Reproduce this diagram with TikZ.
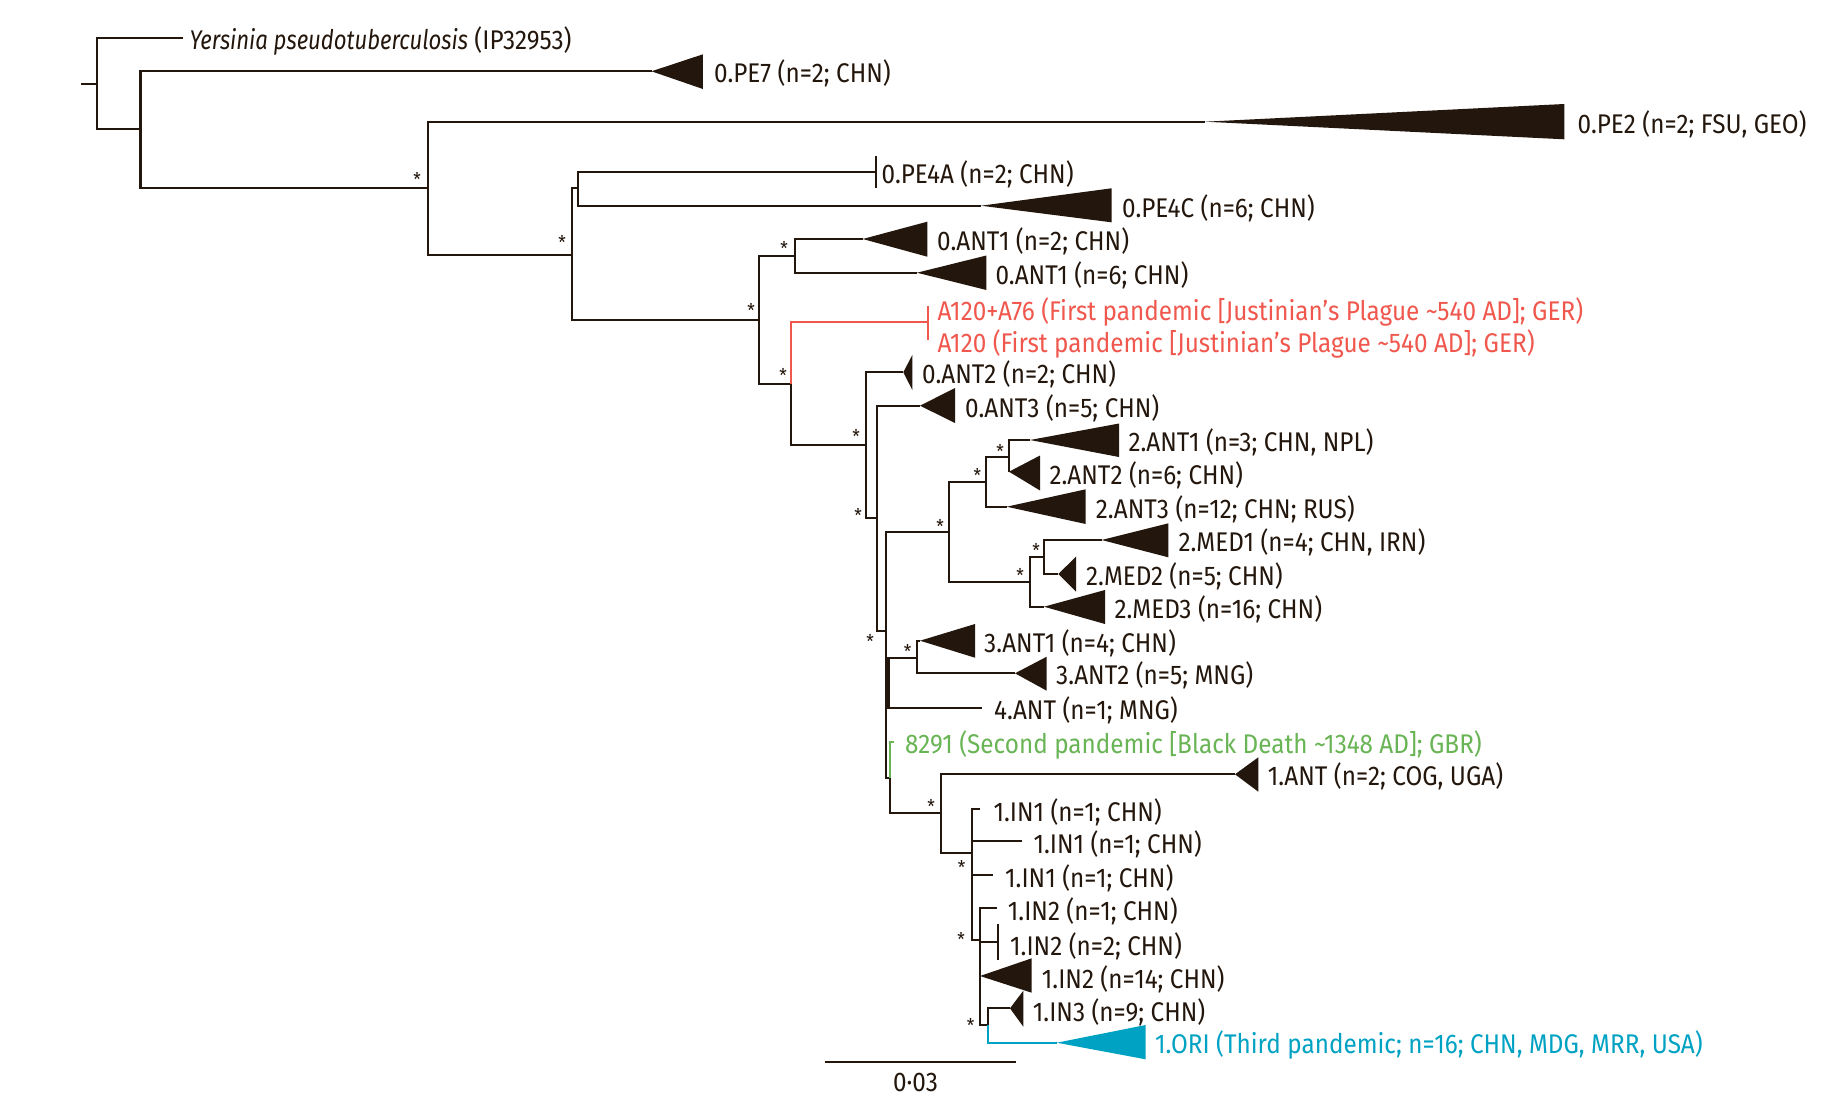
\documentclass[tikz,border=0pt]{standalone}
\usepackage{fontspec}
\setmainfont{Fira Sans}[FakeStretch=0.9,ItalicFeatures={FakeStretch=0.82}]
\definecolor{ink}{RGB}{35,22,12}
\definecolor{cred}{RGB}{240,88,78}
\definecolor{cgreen}{RGB}{105,180,85}
\definecolor{cblue}{RGB}{0,162,195}
\newcommand\tld{\char"7E\relax}
\begin{document}
\begin{tikzpicture}[x=1pt,y=-1pt,
  br/.style={draw=ink,line width=2.2pt,line join=miter},
  thinbar/.style={draw=ink,line width=1.8pt},
  lab/.style={anchor=west,inner sep=0pt,text=ink,yshift=-2.5pt,font=\fontsize{27}{29}\selectfont},
  ast/.style={anchor=north,inner sep=0pt,text=ink,yshift=4.5pt,font=\fontsize{19}{20}\selectfont},
]
\useasboundingbox[fill=white] (0,0) rectangle (1834,1100);
% coordinates
\coordinate (rootL) at (81.4,84);
\coordinate (root) at (96.6,84);
\coordinate (yers) at (182.8,38.3);
\coordinate (nA) at (140.4,129.3);
\coordinate (tPE7) at (651.5,71.3);
\coordinate (nB) at (428.3,188.3);
\coordinate (tPE2) at (1205,121.7);
\coordinate (nC) at (572,255);
\coordinate (nPE4) at (578,188.3);
\coordinate (tPE4A) at (876,172.3);
\coordinate (tPE4C) at (981,205.7);
\coordinate (nD) at (759,320);
\coordinate (nANT1) at (795,255.7);
\coordinate (tANT1a) at (862.7,239);
\coordinate (tANT1b) at (917,272.7);
\coordinate (nE) at (790.7,384.3);
\coordinate (tA120) at (928.3,322.3);
\coordinate (nF) at (866,445);
\coordinate (tANT2) at (903.3,372.3);
\coordinate (nG) at (876.7,518.3);
\coordinate (tANT3) at (920,405.7);
\coordinate (nH) at (885.7,630.7);
\coordinate (nI) at (949,531.7);
\coordinate (nP) at (985.7,481.7);
\coordinate (nQ) at (1009,456.7);
\coordinate (t2ANT1) at (1030,440);
\coordinate (t2ANT2) at (1009,471.7);
\coordinate (t2ANT3) at (1006.7,506.7);
\coordinate (nR) at (1030,582.3);
\coordinate (nS) at (1044,556.7);
\coordinate (tMED1) at (1101.7,540);
\coordinate (tMED2) at (1058.3,574);
\coordinate (tMED3) at (1044,606.7);
\coordinate (nJ) at (888.5,681.7);
\coordinate (n3ANT) at (917.3,657.7);
\coordinate (t3ANT1) at (920,640.7);
\coordinate (t3ANT2) at (1015,673.3);
\coordinate (t4ANT) at (981.7,707.7);
\coordinate (nK) at (890,777.7);
\coordinate (t8291) at (894,741.7);
\coordinate (nL) at (941,813.3);
\coordinate (t1ANT) at (1235,774.3);
\coordinate (nM) at (971.7,853.3);
\coordinate (tIN1a) at (980,809.3);
\coordinate (tIN1b) at (1021.7,841);
\coordinate (tIN1c) at (993.3,875);
\coordinate (nN) at (980,940);
\coordinate (tIN2a) at (996.7,907.7);
\coordinate (tIN2b) at (998.3,942.3);
\coordinate (tIN2c) at (980,976);
\coordinate (nO) at (988.3,1025);
\coordinate (tIN3) at (1010,1008.3);
\coordinate (tORI) at (1056.7,1042.7);
\coordinate (sb1) at (824.6,1062);
\coordinate (sb2) at (1016,1062);

% branches
\draw[br] (rootL) -- (root);
\draw[br] (root) |- (yers);
\draw[br] (root) |- (nA);
\draw[br] (nA) |- (tPE7);
\draw[br] (nA) |- (nB);
\draw[br] (nB) |- (tPE2);
\draw[br] (nB) |- (nC);
\draw[br] (nC) |- (nPE4);
\draw[br] (nC) |- (nD);
\draw[br] (nPE4) |- (tPE4A);
\draw[br] (nPE4) |- (tPE4C);
\draw[br] (nD) |- (nANT1);
\draw[br] (nD) |- (nE);
\draw[br] (nANT1) |- (tANT1a);
\draw[br] (nANT1) |- (tANT1b);
\draw[br] (nE) |- (nF);
\draw[br] (nF) |- (tANT2);
\draw[br] (nF) |- (nG);
\draw[br] (nG) |- (tANT3);
\draw[br] (nG) |- (nH);
\draw[br] (nH) |- (nI);
\draw[br] (nH) |- (nJ);
\draw[br] (nH) |- (nK);
\draw[br] (nI) |- (nP);
\draw[br] (nI) |- (nR);
\draw[br] (nP) |- (nQ);
\draw[br] (nP) |- (t2ANT3);
\draw[br] (nQ) |- (t2ANT1);
\draw[br] (nQ) |- (t2ANT2);
\draw[br] (nR) |- (nS);
\draw[br] (nR) |- (tMED3);
\draw[br] (nS) |- (tMED1);
\draw[br] (nS) |- (tMED2);
\draw[br] (nJ) |- (n3ANT);
\draw[br] (nJ) |- (t4ANT);
\draw[br] (n3ANT) |- (t3ANT1);
\draw[br] (n3ANT) |- (t3ANT2);
\draw[br] (nK) |- (nL);
\draw[br] (nL) |- (t1ANT);
\draw[br] (nL) |- (nM);
\draw[br] (nM) |- (tIN1a);
\draw[br] (nM) |- (tIN1b);
\draw[br] (nM) |- (tIN1c);
\draw[br] (nM) |- (nN);
\draw[br] (nN) |- (tIN2a);
\draw[br] (nN) |- (tIN2b);
\draw[br] (nN) |- (tIN2c);
\draw[br] (nN) |- (nO);
\draw[br] (nO) |- (tIN3);
\draw[draw=cred,line width=1.8pt] (nE) |- (tA120);
\draw[draw=cgreen,line width=1.8pt] (nK) |- (t8291);
\draw[draw=cblue,line width=1.8pt] (nO) |- (tORI);

% collapsed clades
\fill[ink] (tPE7) -- (702.9,54.3) -- (702.9,89) -- cycle;
\fill[ink] (tPE2) -- (1564.4,104) -- (1564.4,139.3) -- cycle;
\fill[ink] (tPE4C) -- (1111.5,188.3) -- (1111.5,222.3) -- cycle;
\fill[ink] (tANT1a) -- (927.3,221.7) -- (927.3,256.7) -- cycle;
\fill[ink] (tANT1b) -- (986.4,255.5) -- (986.4,290) -- cycle;
\fill[ink] (tANT2) -- (912.3,355) -- (912.3,390) -- cycle;
\fill[ink] (tANT3) -- (955,388) -- (955,423) -- cycle;
\fill[ink] (t2ANT1) -- (1119,423.5) -- (1119,457) -- cycle;
\fill[ink] (t2ANT2) -- (1040,455.5) -- (1040,490.5) -- cycle;
\fill[ink] (t2ANT3) -- (1085.7,489.3) -- (1085.7,524) -- cycle;
\fill[ink] (tMED1) -- (1168.3,523.3) -- (1168.3,557.3) -- cycle;
\fill[ink] (tMED2) -- (1076,556.7) -- (1076,591.7) -- cycle;
\fill[ink] (tMED3) -- (1105,590) -- (1105,624) -- cycle;
\fill[ink] (t3ANT1) -- (975,624) -- (975,657.7) -- cycle;
\fill[ink] (t3ANT2) -- (1046.7,656.7) -- (1046.7,690.7) -- cycle;
\fill[ink] (t1ANT) -- (1258.3,757.3) -- (1258.3,791.7) -- cycle;
\fill[ink] (tIN2c) -- (1031.7,958.3) -- (1031.7,992.7) -- cycle;
\fill[ink] (tIN3) -- (1023.3,990.7) -- (1023.3,1026.7) -- cycle;
\fill[cblue] (tORI) -- (1145.7,1025) -- (1145.7,1059.3) -- cycle;
\draw[thinbar] (876,155.7) -- (876,188.3);
\draw[draw=cred,line width=1.8pt] (928.3,305.7) -- (928.3,339.5);
\draw[thinbar] (998.3,924) -- (998.3,960);

% labels
\node[lab] (lYers) at (189.5,38.3) {\textit{Yersinia pseudotuberculosis} (IP32953)};
\node[lab] (lPE7) at (714,71.3) {0.PE7 (n=2; CHN)};
\node[lab] (lPE2) at (1577.5,121.7) {0.PE2 (n=2; FSU, GEO)};
\node[lab] (lPE4A) at (881.5,172.3) {0.PE4A (n=2; CHN)};
\node[lab] (lPE4C) at (1122,205.7) {0.PE4C (n=6; CHN)};
\node[lab] (lANT1a) at (937,239) {0.ANT1 (n=2; CHN)};
\node[lab] (lANT1b) at (995.4,272.7) {0.ANT1 (n=6; CHN)};
\node[lab,text=cred] (lA120a) at (937.3,309) {A120+A76 (First pandemic [Justinian’s Plague \tld540 AD]; GER)};
\node[lab,text=cred] (lA120b) at (937.3,341.5) {A120 (First pandemic [Justinian’s Plague \tld540 AD]; GER)};
\node[lab] (lANT2) at (922,372.3) {0.ANT2 (n=2; CHN)};
\node[lab] (lANT3) at (965,405.7) {0.ANT3 (n=5; CHN)};
\node[lab] (l2ANT1) at (1128.3,440) {2.ANT1 (n=3; CHN, NPL)};
\node[lab] (l2ANT2) at (1049.3,473) {2.ANT2 (n=6; CHN)};
\node[lab] (l2ANT3) at (1095.7,506.7) {2.ANT3 (n=12; CHN; RUS)};
\node[lab] (lMED1) at (1178.3,540) {2.MED1 (n=4; CHN, IRN)};
\node[lab] (lMED2) at (1086,574) {2.MED2 (n=5; CHN)};
\node[lab] (lMED3) at (1114.3,606.7) {2.MED3 (n=16; CHN)};
\node[lab] (l3ANT1) at (984,641) {3.ANT1 (n=4; CHN)};
\node[lab] (l3ANT2) at (1056,673.3) {3.ANT2 (n=5; MNG)};
\node[lab] (l4ANT) at (994,707.7) {4.ANT (n=1; MNG)};
\node[lab,text=cgreen] (l8291) at (905,742.5) {8291 (Second pandemic [Black Death \tld1348 AD]; GBR)};
\node[lab] (l1ANT) at (1267.7,774.3) {1.ANT (n=2; COG, UGA)};
\node[lab] (lIN1a) at (993.3,810) {1.IN1 (n=1; CHN)};
\node[lab] (lIN1b) at (1033.3,842) {1.IN1 (n=1; CHN)};
\node[lab] (lIN1c) at (1005,876) {1.IN1 (n=1; CHN)};
\node[lab] (lIN2a) at (1007.7,909) {1.IN2 (n=1; CHN)};
\node[lab] (lIN2b) at (1010,943.5) {1.IN2 (n=2; CHN)};
\node[lab] (lIN2c) at (1041.7,976.5) {1.IN2 (n=14; CHN)};
\node[lab] (lIN3) at (1032.7,1009.5) {1.IN3 (n=9; CHN)};
\node[lab,text=cblue] (lORI) at (1155,1042) {1.ORI (Third pandemic; n=16; CHN, MDG, MRR, USA)};

% scale bar
\draw[br] (sb1) -- (sb2);
\node[inner sep=0pt,text=ink,font=\fontsize{27}{29}\selectfont] (lsb) at (915.5,1082) {0·03};

% support asterisks
\foreach \x/\y [count=\i] in {417/176.7,562/240,751/308,784/246,783/373,856/434,858/513,870/639,940/523.3,977.3/472.7,1000/448.3,1020/572.7,1036/547.7,907.7/648.3,931/803.3,961.7/865,961/936.7,970.7/1023}
  \node[ast] (ast\i) at (\x,\y) {*};
\end{tikzpicture}
\end{document}
